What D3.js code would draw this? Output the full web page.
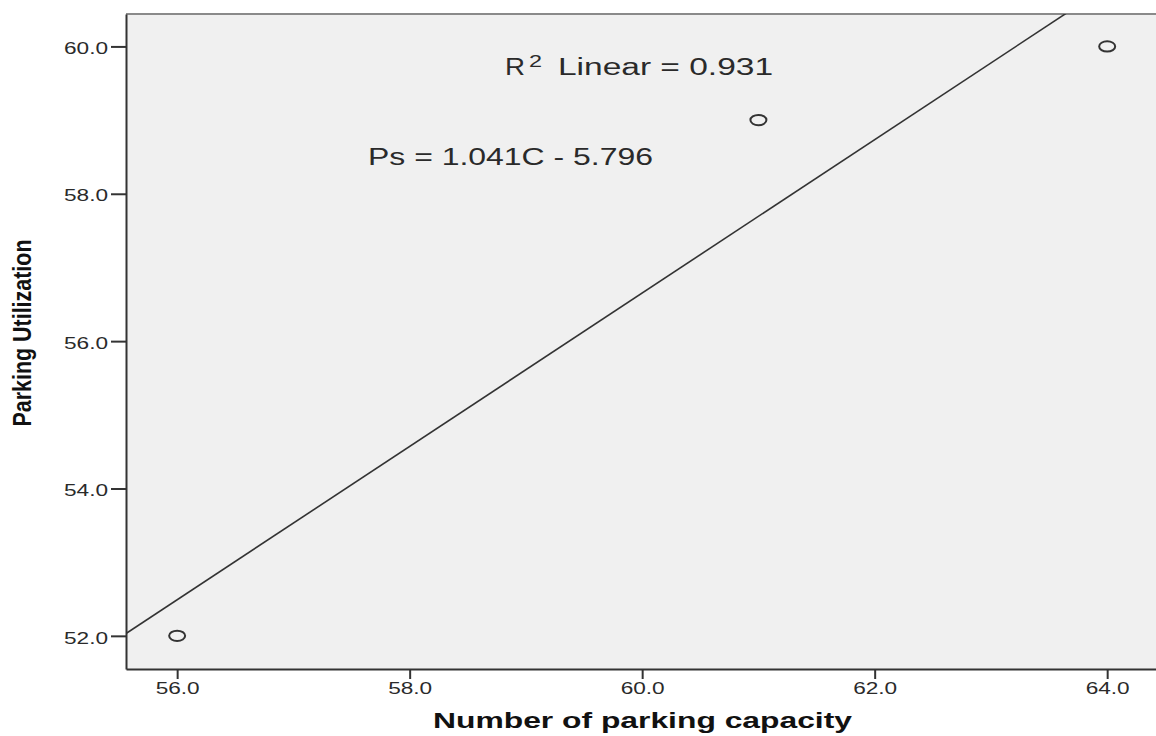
<!DOCTYPE html>
<html>
<head>
<meta charset="utf-8">
<script src="https://cdn.jsdelivr.net/npm/d3@7"></script>
<style>
  html, body { margin: 0; padding: 0; background: #fff; }
  svg { display: block; }
  .tick text { font-family: "Liberation Sans", Arial, sans-serif; font-size: 16px; fill: #2a2a2a; }
  .tick line { stroke: #333; stroke-width: 2; }
  .domain { stroke: #333; stroke-width: 2; }
  .note { font-family: "Liberation Sans", Arial, sans-serif; font-size: 23px; fill: #2a2a2a; }
  .axis-title { font-family: "Liberation Sans", Arial, sans-serif; font-weight: bold; font-size: 22px; fill: #111; }
</style>
</head>
<body>
<svg id="chart" width="1156" height="736"></svg>
<script>
// data
const capacity = [56, 61, 64];
const utilization = [52, 59, 60];
const xTicks = [56, 58, 60, 62, 64];
const yTicks = [52, 54, 56, 58, 60];
const xTitle = "Number of parking capacity";
const yTitle = "Parking Utilization";
const r2Label = "0.931";
const eqLabel = "Ps = 1.041C - 5.796";

const WIDTH = 1156, HEIGHT = 736;
const PLOT = { LEFT: 126, RIGHT: 1156, TOP: 14, BOTTOM: 669 };

const svg = d3.select('#chart');

const x = d3.scaleLinear().domain([55.56, 64.42]).range([PLOT.LEFT, PLOT.RIGHT]);
const y = d3.scaleLinear().domain([51.55, 60.44]).range([PLOT.BOTTOM, PLOT.TOP]);

// plot background
svg.append('rect')
  .attr('x', PLOT.LEFT).attr('y', PLOT.TOP)
  .attr('width', PLOT.RIGHT - PLOT.LEFT).attr('height', PLOT.BOTTOM - PLOT.TOP)
  .attr('fill', '#f0f0f0');

svg.append('line')
  .attr('x1', PLOT.LEFT).attr('x2', PLOT.RIGHT)
  .attr('y1', PLOT.TOP).attr('y2', PLOT.TOP)
  .attr('stroke', '#8a8a8a').attr('stroke-width', 2);

svg.append('clipPath').attr('id', 'clip')
  .append('rect')
  .attr('x', PLOT.LEFT).attr('y', PLOT.TOP)
  .attr('width', PLOT.RIGHT - PLOT.LEFT).attr('height', PLOT.BOTTOM - PLOT.TOP);

// least squares fit
const pts = capacity.map((c, i) => ({ c, u: utilization[i] }));
const mx = d3.mean(pts, d => d.c), my = d3.mean(pts, d => d.u);
const slope = d3.sum(pts, d => (d.c - mx) * (d.u - my)) / d3.sum(pts, d => (d.c - mx) ** 2);
const intercept = my - slope * mx;
const [x0, x1] = x.domain();

svg.append('line')
  .attr('clip-path', 'url(#clip)')
  .attr('x1', x(x0)).attr('y1', y(slope * x0 + intercept))
  .attr('x2', x(x1)).attr('y2', y(slope * x1 + intercept))
  .attr('stroke', '#333').attr('stroke-width', 1.6);

// axes
const gx = svg.append('g')
  .attr('transform', `translate(0, ${PLOT.BOTTOM})`)
  .call(d3.axisBottom(x).tickValues(xTicks).tickFormat(d3.format('.1f'))
    .tickSizeInner(10).tickSizeOuter(0).tickPadding(4));
gx.selectAll('.tick text')
  .attr('textLength', 44).attr('lengthAdjust', 'spacingAndGlyphs');

const gy = svg.append('g')
  .attr('transform', `translate(${PLOT.LEFT}, 0)`)
  .call(d3.axisLeft(y).tickValues(yTicks).tickFormat(d3.format('.1f'))
    .tickSizeInner(15).tickSizeOuter(0).tickPadding(3));
gy.selectAll('.tick text')
  .attr('dy', '0.45em')
  .attr('textLength', 44).attr('lengthAdjust', 'spacingAndGlyphs');

// points
svg.append('g')
  .selectAll('ellipse')
  .data(pts)
  .enter()
  .append('ellipse')
  .attr('cx', d => x(d.c))
  .attr('cy', d => y(d.u))
  .attr('rx', 8).attr('ry', 5.2)
  .attr('fill', 'none')
  .attr('stroke', '#333').attr('stroke-width', 2);

// annotations
svg.append('text').attr('class', 'note')
  .attr('x', 505).attr('y', 75)
  .attr('textLength', 20).attr('lengthAdjust', 'spacingAndGlyphs')
  .text('R');
svg.append('text').attr('class', 'note')
  .attr('x', 529).attr('y', 67).style('font-size', '16px')
  .attr('textLength', 13).attr('lengthAdjust', 'spacingAndGlyphs')
  .text('2');
svg.append('text').attr('class', 'note')
  .attr('x', 558).attr('y', 75)
  .attr('textLength', 215).attr('lengthAdjust', 'spacingAndGlyphs')
  .text('Linear = ' + r2Label);

svg.append('text').attr('class', 'note')
  .attr('x', 368).attr('y', 165)
  .attr('textLength', 285).attr('lengthAdjust', 'spacingAndGlyphs')
  .text(eqLabel);

// axis titles
svg.append('text').attr('class', 'axis-title')
  .attr('x', 433).attr('y', 728)
  .attr('textLength', 419).attr('lengthAdjust', 'spacingAndGlyphs')
  .text(xTitle);

svg.append('text').attr('class', 'axis-title')
  .attr('transform', 'translate(31, 333) rotate(-90)')
  .attr('text-anchor', 'middle')
  .style('font-size', '25px')
  .attr('textLength', 187).attr('lengthAdjust', 'spacingAndGlyphs')
  .text(yTitle);
</script>
</body>
</html>
